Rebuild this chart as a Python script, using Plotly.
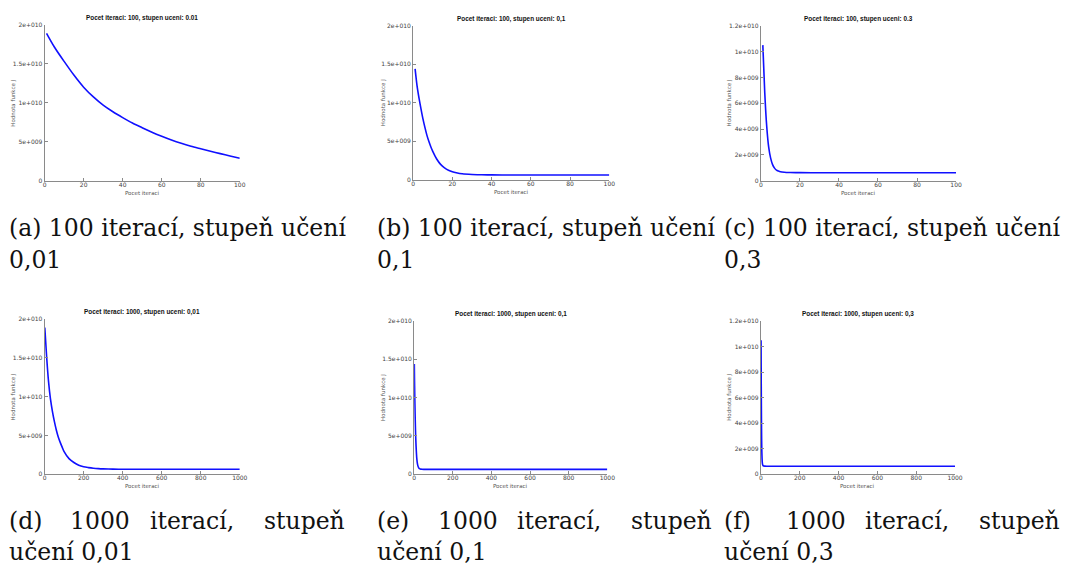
import plotly.graph_objects as go

W, H = 1075, 571

# ---------------- data (values in units of 1e9) ----------------
a_iter = [1, 5, 10, 15, 20, 25, 30, 35, 40, 45, 50, 55, 60, 65, 70, 75, 80, 85, 90, 95, 100]
a_cost = [18.9, 17.15, 15.3, 13.55, 12.0, 10.75, 9.7, 8.85, 8.1, 7.4, 6.8, 6.22, 5.7, 5.22, 4.8, 4.43, 4.1, 3.78, 3.48, 3.18, 2.9]

b_iter = [1, 2, 3, 4, 5, 6, 7, 8, 9, 10, 12, 14, 16, 18, 20, 22, 25, 30, 35, 40, 50, 60, 80, 100]
b_cost = [14.4, 12.2, 10.6, 9.2, 7.9, 6.8, 5.8, 5.0, 4.3, 3.7, 2.7, 2.0, 1.55, 1.25, 1.05, 0.92, 0.78, 0.69, 0.66, 0.64, 0.63, 0.63, 0.63, 0.63]

c_iter = [1, 2, 3, 4, 5, 6, 7, 8, 9, 10, 12, 15, 20, 30, 50, 100]
c_cost = [10.5, 6.8, 4.2, 2.6, 1.75, 1.25, 0.98, 0.82, 0.75, 0.70, 0.66, 0.64, 0.63, 0.62, 0.62, 0.62]

d_iter = [1, 10, 20, 30, 40, 50, 60, 70, 80, 90, 100, 125, 150, 175, 200, 225, 250, 275, 300, 350, 400, 500, 600, 700, 800, 900, 1000]
d_cost = [18.9, 15.3, 12.0, 9.7, 8.1, 6.8, 5.7, 4.8, 4.1, 3.48, 2.9, 2.0, 1.5, 1.15, 0.95, 0.84, 0.76, 0.71, 0.68, 0.65, 0.64, 0.63, 0.63, 0.63, 0.63, 0.63, 0.63]

e_iter = b_iter + [150, 200, 300, 400, 500, 600, 700, 800, 900, 1000]
e_cost = b_cost + [0.63, 0.63, 0.63, 0.63, 0.63, 0.63, 0.63, 0.63, 0.63, 0.63]

f_iter = c_iter + [150, 200, 300, 400, 500, 600, 700, 800, 900, 1000]
f_cost = c_cost + [0.62, 0.62, 0.62, 0.62, 0.62, 0.62, 0.62, 0.62, 0.62, 0.62]

panel_titles = [
    "Pocet iteraci: 100, stupen uceni: 0.01",
    "Pocet iteraci: 100, stupen uceni: 0,1",
    "Pocet iteraci: 100, stupen uceni: 0.3",
    "Pocet iteraci: 1000, stupen uceni: 0,01",
    "Pocet iteraci: 1000, stupen uceni: 0,1",
    "Pocet iteraci: 1000, stupen uceni: 0,3",
]
x_label = "Pocet iteraci"
y_label = "Hodnota funkce J"

x_ticks_100 = [0, 20, 40, 60, 80, 100]
x_ticks_1000 = [0, 200, 400, 600, 800, 1000]
y_ticks_2e10 = [0, 5, 10, 15, 20]
y_text_2e10 = ["0", "5e+009", "1e+010", "1.5e+010", "2e+010"]
y_ticks_12e9 = [0, 2, 4, 6, 8, 10, 12]
y_text_12e9 = ["0", "2e+009", "4e+009", "6e+009", "8e+009", "1e+010", "1.2e+010"]

captions_row1 = [
    ["(a) 100 iterací, stupeň učení", "0,01"],
    ["(b) 100 iterací, stupeň učení", "0,1"],
    ["(c) 100 iterací, stupeň učení", "0,3"],
]
captions_row2 = [
    [["(d)", "1000", "iterací,", "stupeň"], "učení 0,01"],
    [["(e)", "1000", "iterací,", "stupeň"], "učení 0,1"],
    [["(f)", "1000", "iterací,", "stupeň"], "učení 0,3"],
]

series = [(a_iter, a_cost), (b_iter, b_cost), (c_iter, c_cost),
          (d_iter, d_cost), (e_iter, e_cost), (f_iter, f_cost)]

# ---------------- layout geometry (pixels) ----------------
boxes = [  # left, right, top, bottom
    (43, 240, 21, 179),
    (415, 613, 22, 178),
    (766, 963, 22, 179),
    (43, 240, 319, 476),
    (416, 611, 321, 476),
    (766, 962, 321, 476),
]
ylab_x = [12, 385, 734, 12, 385, 734]

fig = go.Figure()
annotations = []
layout = {}

for i, ((xs, ys), (l, r, t, b)) in enumerate(zip(series, boxes)):
    n = i + 1
    xa = "x" if n == 1 else f"x{n}"
    ya = "y" if n == 1 else f"y{n}"
    fig.add_trace(go.Scatter(x=xs, y=ys, mode="lines", xaxis=xa, yaxis=ya,
                             line=dict(color="#1010ff", width=1.6, shape="spline", smoothing=0.8),
                             showlegend=False, hoverinfo="skip"))
    big = i >= 3
    small_y = i in (2, 5)
    common = dict(showline=True, linecolor="#8a8a8a", linewidth=1,
                  ticks="inside", ticklen=3, tickcolor="#8a8a8a",
                  showgrid=False, zeroline=False,
                  tickfont=dict(family="DejaVu Sans", size=6, color="#444"))
    layout["xaxis" if n == 1 else f"xaxis{n}"] = dict(
        domain=[l / W, r / W], anchor=ya,
        range=[0, 1000 if big else 100],
        tickvals=x_ticks_1000 if big else x_ticks_100,
        ticklabelstandoff=-2,
        **common)
    layout["yaxis" if n == 1 else f"yaxis{n}"] = dict(
        domain=[1 - b / H, 1 - t / H], anchor=xa,
        range=[0, 12 if small_y else 20],
        tickvals=y_ticks_12e9 if small_y else y_ticks_2e10,
        ticktext=y_text_12e9 if small_y else y_text_2e10,
        **common)
    cx = (l + r) / 2
    annotations.append(dict(text=f"<b>{panel_titles[i]}</b>", x=cx / W, y=1 - (t - 7) / H,
                            xref="paper", yref="paper", showarrow=False,
                            xanchor="center", yanchor="middle",
                            font=dict(family="Liberation Sans", size=6.4, color="#111")))
    annotations.append(dict(text=x_label, x=cx / W, y=1 - (b + 12) / H,
                            xref="paper", yref="paper", showarrow=False,
                            xanchor="center", yanchor="middle",
                            font=dict(family="DejaVu Sans", size=5.5, color="#555")))
    annotations.append(dict(text=y_label, x=ylab_x[i] / W, y=1 - ((t + b) / 2) / H,
                            xref="paper", yref="paper", showarrow=False, textangle=-90,
                            xanchor="center", yanchor="middle",
                            font=dict(family="DejaVu Sans", size=5.5, color="#555")))

cap_font = dict(family="DejaVu Serif", size=23.5, color="#111")
col_x = [5, 376, 727]
cap_w = 343
for j, (l1, l2) in enumerate(captions_row1):
    annotations.append(dict(text=l1, x=col_x[j] / W, y=1 - 227 / H, xref="paper", yref="paper",
                            showarrow=False, xanchor="left", yanchor="middle", font=cap_font))
    annotations.append(dict(text=l2, x=col_x[j] / W, y=1 - 259 / H, xref="paper", yref="paper",
                            showarrow=False, xanchor="left", yanchor="middle", font=cap_font))
word_off = [0, 62, 142]
for j, (words, l2) in enumerate(captions_row2):
    for k, w in enumerate(words[:3]):
        annotations.append(dict(text=w, x=(col_x[j] + word_off[k]) / W, y=1 - 523 / H,
                                xref="paper", yref="paper", showarrow=False,
                                xanchor="left", yanchor="middle", font=cap_font))
    annotations.append(dict(text=words[3], x=(col_x[j] + cap_w) / W, y=1 - 523 / H,
                            xref="paper", yref="paper", showarrow=False,
                            xanchor="right", yanchor="middle", font=cap_font))
    annotations.append(dict(text=l2, x=col_x[j] / W, y=1 - 555 / H, xref="paper", yref="paper",
                            showarrow=False, xanchor="left", yanchor="middle", font=cap_font))

fig.update_layout(width=W, height=H, margin=dict(l=0, r=0, t=0, b=0),
                  paper_bgcolor="white", plot_bgcolor="white",
                  annotations=annotations, **layout)
fig.write_html("out.html")
